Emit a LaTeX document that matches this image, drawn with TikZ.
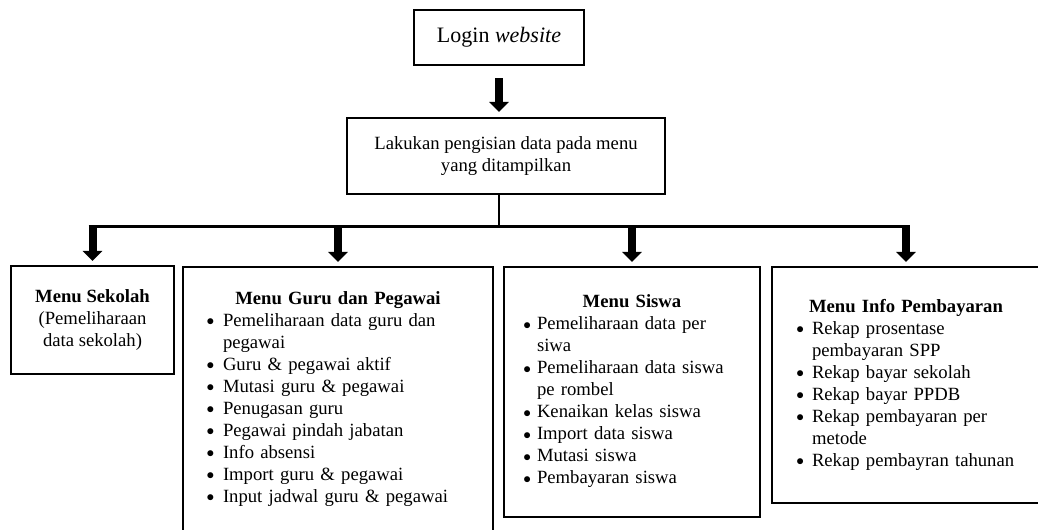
\documentclass[tikz,border=0pt]{standalone}
\usepackage{fontspec}
\setmainfont{Liberation Serif}
\usepackage{enumitem}
\usetikzlibrary{arrows.meta}
\setlist[itemize]{nosep,label=\raisebox{0.6pt}{\scalebox{0.8}{$\bullet$}}}

\begin{document}
\begin{tikzpicture}[
      x=0.75pt, y=-0.75pt,
      every node/.style={font=\fontsize{14}{16.5}\selectfont},
      box/.style={draw, line width=1.6pt, inner sep=0pt},
      blk/.style={line width=6pt, -{Triangle[width=14.5pt,length=7.5pt]}},
      list/.style={anchor=north, inner sep=0pt, align=left}
    ]
    \useasboundingbox (0,0) rectangle (1038,529);
    \clip (0,0) rectangle (1038,529);

    \node[box, minimum width=127.5pt, minimum height=41.25pt, font=\fontsize{16.5}{19}\selectfont] (login) at (499,37.5) {Login \textit{website}};
    \node[box, minimum width=238.5pt, minimum height=57pt, align=center] (isi) at (506,156) {Lakukan pengisian data pada menu\\yang ditampilkan};

    \node[box, minimum width=122.25pt, minimum height=81pt, align=center] (sekolah) at (92.5,320) {\textbf{Menu Sekolah}\\(Pemeliharaan\\data sekolah)};
    \node[box, minimum width=232.5pt, minimum height=204.75pt] (guru) at (338,403.5) {};
    \node[box, minimum width=192pt, minimum height=187.5pt] (siswa) at (632,392) {};
    \node[box, minimum width=201pt, minimum height=177pt] (info) at (906,385) {};

    \node[list, text width=217.5pt] (gurutxt) at ([yshift=-19.2pt]guru.north) {%
      {\centering\textbf{Menu Guru dan Pegawai}\par}
      \begin{itemize}[leftmargin=22.5pt,labelsep=6.5pt]
        \item Pemeliharaan data guru dan\newline pegawai
        \item Guru \& pegawai aktif
        \item Mutasi guru \& pegawai
        \item Penugasan guru
        \item Pegawai pindah jabatan
        \item Info absensi
        \item Import guru \& pegawai
        \item Input jadwal guru \& pegawai
      \end{itemize}};
    \node[list, text width=177pt] (siswatxt) at ([yshift=-21.5pt]siswa.north) {%
      {\centering\textbf{Menu Siswa}\par}
      \begin{itemize}[leftmargin=17.25pt,labelsep=4.5pt]
        \item Pemeliharaan data per\newline siwa
        \item Pemeliharaan data siswa\newline pe rombel
        \item Kenaikan kelas siswa
        \item Import data siswa
        \item Mutasi siswa
        \item Pembayaran siswa
      \end{itemize}};
    \node[list, text width=186pt] (infotxt) at ([yshift=-24.5pt]info.north) {%
      {\centering\textbf{Menu Info Pembayaran}\par}
      \begin{itemize}[leftmargin=22.5pt,labelsep=6pt]
        \item Rekap prosentase\newline pembayaran SPP
        \item Rekap bayar sekolah
        \item Rekap bayar PPDB
        \item Rekap pembayaran per\newline metode
        \item Rekap pembayran tahunan
      \end{itemize}};

    \coordinate (bar) at (499,226);
    \draw[blk, shorten <=9pt, shorten >=3.75pt] (login.south) -- (login.south |- isi.north);
    \draw[line width=1.5pt] (login |- isi.south) -- (login |- bar);
    \draw[line width=2.25pt] ([xshift=-3pt]sekolah.north |- bar) -- ([xshift=3pt]info.north |- bar);
    \foreach \b in {sekolah,guru,siswa,info}
      \draw[blk, shorten >=3pt] (\b.north |- bar) -- (\b.north);
\end{tikzpicture}
\end{document}
